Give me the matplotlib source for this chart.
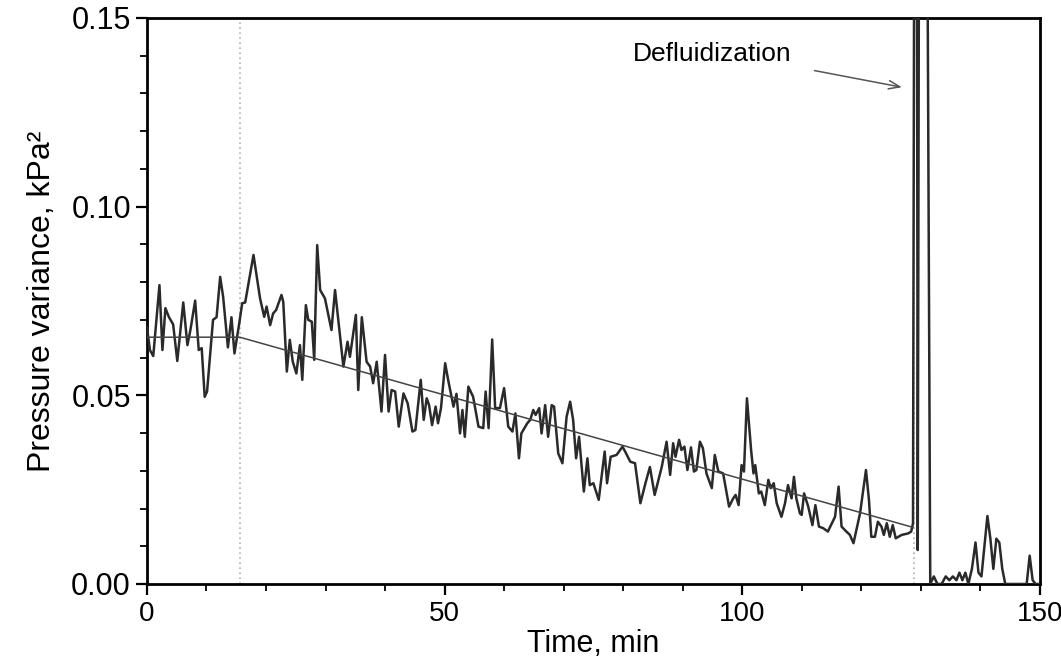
import numpy as np
import matplotlib
matplotlib.use("Agg")
import matplotlib.pyplot as plt
from matplotlib.ticker import MultipleLocator

plt.rcParams["font.family"] = ["Liberation Sans", "DejaVu Sans"]

# pressure variance trace (min, kPa^2)
time_min = [
    0.0, 0.5, 1.06, 2.1, 2.6, 3.1, 3.7, 4.4, 5.1, 6.1, 6.8, 7.3, 8.1, 8.7, 9.2, 9.7,
    10.1, 11.1, 11.7, 12.3, 12.8, 13.6, 14.2, 14.7, 15.5, 16.0, 16.5, 17.9, 19.0, 19.7,
    20.1, 20.7, 21.2, 21.7, 22.6, 22.9, 23.5, 24.0, 24.5, 25.1, 25.7, 26.1, 26.7, 27.1,
    27.7, 28.1, 28.6, 29.1, 29.9, 31.0, 31.6, 33.0, 33.7, 34.1, 35.1, 35.5, 36.1, 36.9,
    37.5, 38.0, 38.6, 39.4, 40.0, 40.6, 41.1, 41.7, 42.3, 43.1, 43.8, 44.6, 45.1, 46.0,
    46.5, 47.0, 47.4, 47.9, 48.5, 48.9, 49.4, 50.1, 50.6, 51.5, 52.0, 52.6, 53.0, 53.4,
    54.0, 54.8, 55.7, 56.5, 56.9, 57.4, 58.0, 58.5, 59.3, 60.0, 60.7, 61.4, 61.9, 62.5,
    62.9, 63.9, 64.4, 64.9, 65.3, 65.9, 66.3, 66.9, 67.4, 68.0, 68.4, 69.1, 69.8, 70.5,
    71.1, 71.6, 72.1, 72.6, 73.4, 74.0, 74.4, 75.0, 75.9, 76.9, 77.3, 77.9, 78.9, 79.9,
    80.5, 81.2, 82.0, 82.9, 83.8, 84.5, 85.3, 86.5, 87.3, 87.9, 88.4, 88.8, 89.4, 89.8,
    90.3, 90.8, 91.4, 91.9, 92.3, 92.9, 93.4, 94.0, 94.9, 95.4, 96.0, 96.8, 97.8, 98.5,
    98.9, 99.4, 99.9, 100.3, 100.8, 101.5, 101.9, 102.2, 102.8, 103.2, 103.8, 104.4,
    104.8, 105.3, 105.8, 106.6, 107.2, 107.7, 108.3, 108.7, 109.1, 109.7, 110.0, 110.4,
    111.1, 111.8, 112.3, 112.9, 113.6, 114.4, 115.6, 116.2, 116.7, 117.5, 118.1, 118.7,
    119.8, 120.8, 121.3, 121.7, 122.3, 122.8, 123.4, 123.8, 124.3, 124.8, 125.3, 125.8,
    126.8, 127.9, 128.4, 128.7,
    # defluidization
    129.0, 129.3, 129.5, 129.8, 130.9, 131.6,
    132.2, 132.8, 133.5, 134.2, 134.8, 135.4, 136.0, 136.5, 137.0, 137.5, 138.0, 138.6,
    139.2, 139.7, 140.2, 140.7, 141.2, 141.7, 142.2, 142.7, 143.2, 143.7, 144.2, 145.0,
    146.0, 147.0, 147.8, 148.3, 148.8, 149.3, 150.0,
]
variance = [
    0.068, 0.062, 0.0604, 0.0792, 0.062, 0.0731, 0.0707, 0.0688, 0.0591, 0.0746, 0.0633,
    0.0673, 0.0751, 0.062, 0.0625, 0.0496, 0.051, 0.070, 0.0707, 0.0814, 0.0761, 0.0627,
    0.0707, 0.0611, 0.069, 0.0744, 0.0746, 0.0872, 0.0757, 0.0708, 0.0735, 0.0686, 0.0717,
    0.0726, 0.0766, 0.0748, 0.0563, 0.0647, 0.0589, 0.0558, 0.0633, 0.0541, 0.0739, 0.070,
    0.0695, 0.0594, 0.0898, 0.0779, 0.0757, 0.0673, 0.0779, 0.0576, 0.0642, 0.0602, 0.0713,
    0.0514, 0.0707, 0.0589, 0.0576, 0.0532, 0.0589, 0.0457, 0.0607, 0.0457, 0.0514, 0.051,
    0.0417, 0.0505, 0.0479, 0.0404, 0.0408, 0.0541, 0.0435, 0.0492, 0.0474, 0.0421, 0.047,
    0.0426, 0.0466, 0.0585, 0.0541, 0.047, 0.0504, 0.0399, 0.0461, 0.039, 0.0523, 0.0496,
    0.0417, 0.0413, 0.051, 0.0413, 0.0648, 0.0466, 0.0466, 0.0519, 0.0417, 0.0404, 0.0452,
    0.0333, 0.0399, 0.0426, 0.0435, 0.0461, 0.0448, 0.0466, 0.0399, 0.0474, 0.039, 0.0474,
    0.047, 0.0346, 0.032, 0.0443, 0.0483, 0.0435, 0.0333, 0.039, 0.0245, 0.0333, 0.0262,
    0.0267, 0.0223, 0.0351, 0.0267, 0.0337, 0.0342, 0.0364, 0.0346, 0.0324, 0.032, 0.0214,
    0.027, 0.031, 0.0236, 0.0311, 0.0377, 0.0289, 0.0373, 0.0337, 0.0382, 0.0355, 0.0364,
    0.0302, 0.0362, 0.0298, 0.0302, 0.0377, 0.036, 0.0293, 0.0254, 0.0342, 0.0298, 0.0293,
    0.0205, 0.0227, 0.0236, 0.0209, 0.0315, 0.0298, 0.0492, 0.0355, 0.0293, 0.0315, 0.024,
    0.0245, 0.0209, 0.0276, 0.0254, 0.0267, 0.0214, 0.0178, 0.0214, 0.0262, 0.0227, 0.0284,
    0.0227, 0.0187, 0.0183, 0.024, 0.0205, 0.0156, 0.0209, 0.0152, 0.0148, 0.0139, 0.0178,
    0.0258, 0.0152, 0.0139, 0.013, 0.0108, 0.0187, 0.0302, 0.0223, 0.0125, 0.0125, 0.0165,
    0.0152, 0.013, 0.0161, 0.0125, 0.0156, 0.0121, 0.013, 0.0134, 0.0139, 0.0161,
    0.25, 0.25, 0.009, 0.25, 0.25, 0.0,
    0.002, 0.0, 0.0, 0.002, 0.001, 0.002, 0.001, 0.003, 0.001, 0.003, 0.0, 0.004,
    0.011, 0.003, 0.002, 0.010, 0.018, 0.012, 0.004, 0.012, 0.011, 0.004, 0.0, 0.0,
    0.0, 0.0, 0.0, 0.0075, 0.001, 0.0, 0.0,
]

# fitted trend: flat part then linear decrease
fit_t = [0.0, 15.6, 128.7]
fit_v = [0.0654, 0.0654, 0.015]

marker_t = [15.6, 128.8]

fig = plt.figure(figsize=(10.61, 6.71), dpi=100)
ax = fig.add_axes([0.1385, 0.1297, 0.8415, 0.8435])

for t in marker_t:
    ax.axvline(t, color="#b0b0b0", linestyle=(0, (1, 2)), lw=1.2, zorder=1)

ax.plot(time_min, variance, color="#2a2a2a", lw=1.8, zorder=3)
ax.plot(fit_t, fit_v, color="#444444", lw=1.1, zorder=4)

ax.text(94.9, 0.1405, "Defluidization", fontsize=19, ha="center", va="center")
ax.annotate("", xy=(127.3, 0.1315), xytext=(111.7, 0.1362),
            arrowprops=dict(arrowstyle="->,head_length=0.8,head_width=0.3",
                            color="#555555", lw=1.1))

ax.set_xlim(0, 150)
ax.set_ylim(0, 0.15)
ax.xaxis.set_major_locator(MultipleLocator(50))
ax.xaxis.set_minor_locator(MultipleLocator(10))
ax.yaxis.set_major_locator(MultipleLocator(0.05))
ax.yaxis.set_minor_locator(MultipleLocator(0.01))
ax.yaxis.set_major_formatter(plt.FormatStrFormatter("%.2f"))

ax.tick_params(which="major", direction="out", length=8, width=1.6)
ax.tick_params(which="minor", direction="out", length=5, width=1.3)
ax.tick_params(axis="y", labelsize=22)
ax.tick_params(axis="x", labelsize=20, pad=4)
for s in ax.spines.values():
    s.set_linewidth(2)

ax.set_xlabel("Time, min", fontsize=22, labelpad=2)
ax.set_ylabel("Pressure variance, kPa²", fontsize=23, labelpad=10)

fig.savefig("out.png", dpi=100)
